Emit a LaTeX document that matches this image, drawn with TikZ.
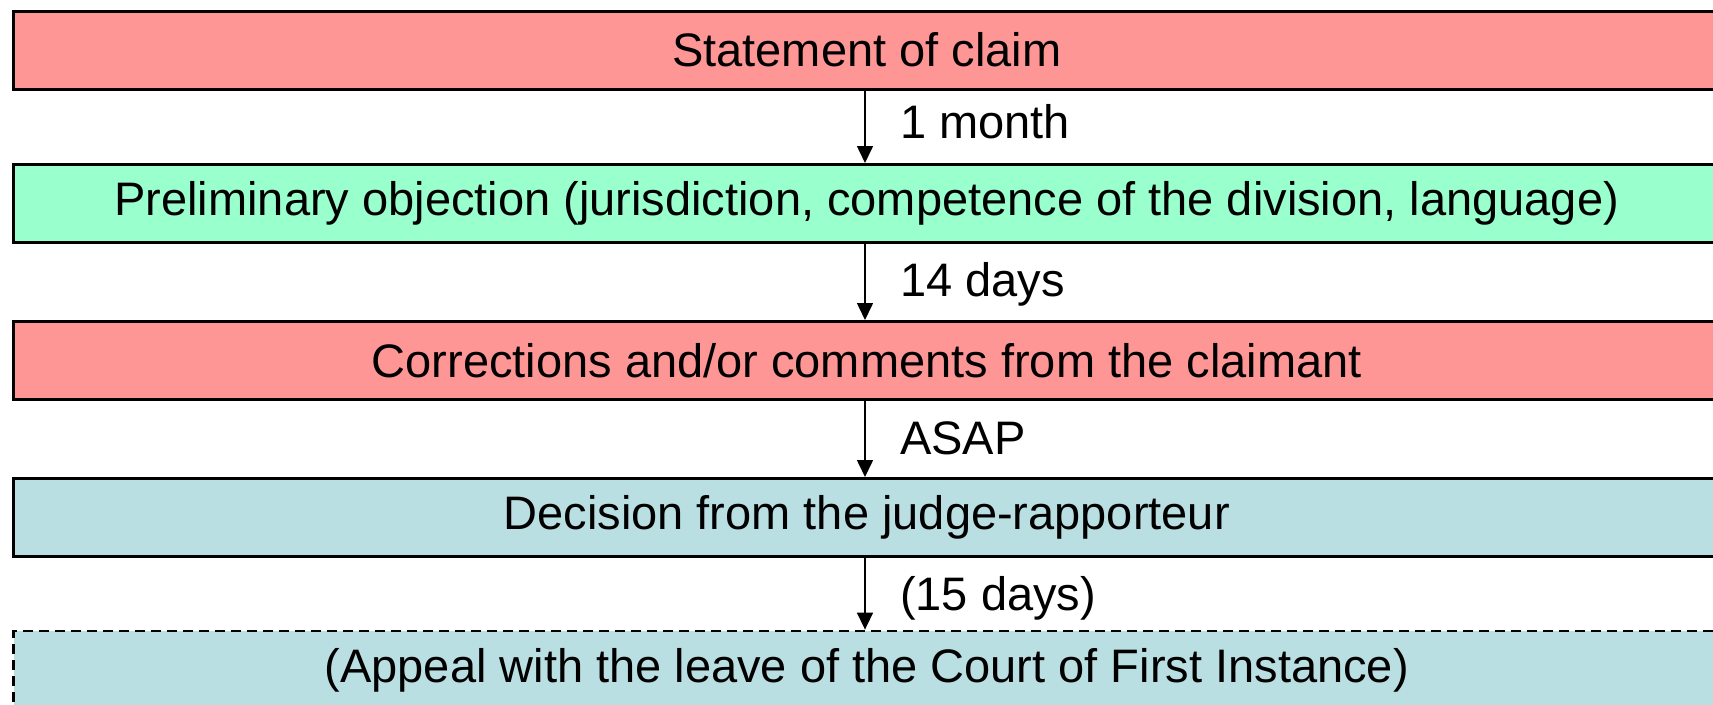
\documentclass[tikz,border=0pt]{standalone}
\usepackage{fontspec}
\setmainfont{Liberation Sans}
\usetikzlibrary{arrows.meta}
\definecolor{boxpink}{HTML}{FF9696}
\definecolor{boxgreen}{HTML}{99FFCC}
\definecolor{boxteal}{HTML}{B9DFE2}
\tikzset{
  box/.style={draw=black, line width=3pt, minimum width=1706.5pt, minimum height=78pt, inner sep=0pt,
    font=\fontsize{47}{56}\selectfont, anchor=center},
  arr/.style={line width=1.6pt, -{Triangle[length=17pt,width=16pt]}},
  lbl/.style={anchor=west, inner sep=0pt, font=\fontsize{47}{56}\selectfont}
}
\begin{document}
\begin{tikzpicture}[x=1pt,y=-1pt]
\useasboundingbox (0,0) rectangle (1713,704);
\clip (0,0) rectangle (1713,704);
\node[box, fill=boxpink] (b1) at (866.75,50) {Statement of claim};
\node[box, fill=boxgreen] (b2) at (866.75,203.5) {Preliminary objection (jurisdiction, competence of the division, language)};
\node[box, fill=boxpink] (b3) at (866.75,360.5) {Corrections and/or comments from the claimant};
\node[box, fill=boxteal] (b4) at (866.75,517.5) {Decision from the judge-rapporteur};
\node[box, fill=boxteal, line width=2.8pt, dash pattern=on 10pt off 6pt] (b5) at (866.75,670) {(Appeal with the leave of the Court of First Instance)};
\draw[arr] ([xshift=-1.75pt]b1.south) -- ([xshift=-1.75pt]b2.north);
\draw[arr] ([xshift=-1.75pt]b2.south) -- ([xshift=-1.75pt]b3.north);
\draw[arr] ([xshift=-1.75pt]b3.south) -- ([xshift=-1.75pt]b4.north);
\draw[arr] ([xshift=-1.75pt]b4.south) -- ([xshift=-1.75pt]b5.north);
\node[lbl] (l1) at (900,122) {1 month};
\node[lbl] (l2) at (900,284) {14 days};
\node[lbl] (l3) at (900,438) {ASAP};
\node[lbl] (l4) at (900,598) {(15 days)};
\end{tikzpicture}
\end{document}
